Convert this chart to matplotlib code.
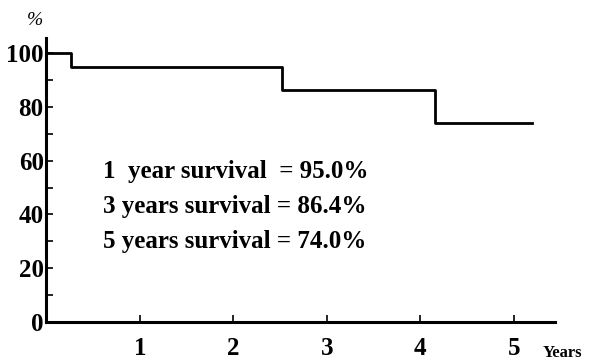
import matplotlib
matplotlib.use('Agg')
import matplotlib.pyplot as plt
from matplotlib.ticker import MultipleLocator

# Kaplan-Meier step curve
years = [0, 0.26, 2.52, 4.16, 5.19]
survival = [100, 95.0, 86.4, 74.0, 74.0]

x_ticks = [1, 2, 3, 4, 5]
y_ticks = [0, 20, 40, 60, 80, 100]
notes = ['1  year survival  = 95.0%',
         '3 years survival = 86.4%',
         '5 years survival = 74.0%']

plt.rcParams['font.family'] = 'Liberation Serif'
plt.rcParams['font.weight'] = 'bold'

fig = plt.figure(figsize=(5.92, 3.64), dpi=100)
ax = fig.add_axes([0.0785, 0.1154, 0.859, 0.780])

ax.step(years, survival, where='post', color='black', linewidth=2.0)

ax.set_xlim(0, 5.44)
ax.set_ylim(0, 105.6)

for s in ['top', 'right']:
    ax.spines[s].set_visible(False)
for s in ['left', 'bottom']:
    ax.spines[s].set_linewidth(2.2)

ax.set_xticks(x_ticks)
ax.set_yticks(y_ticks)
ax.yaxis.set_minor_locator(MultipleLocator(10))
ax.tick_params(axis='both', which='both', direction='in', width=1.2,
               length=5, labelsize=18)
ax.tick_params(axis='x', pad=11)
ax.tick_params(axis='y', pad=2)

ax.text(-0.12, 109, '%', fontsize=14, fontweight='normal', style='italic',
        ha='center', va='bottom', clip_on=False)
ax.text(5.31, -11.5, 'Years', fontsize=12, ha='left', va='center',
        clip_on=False)

for i, t in enumerate(notes):
    ax.text(0.6, 56 - i * 13, t, fontsize=18, ha='left', va='center')

fig.savefig('out.png', dpi=100)
